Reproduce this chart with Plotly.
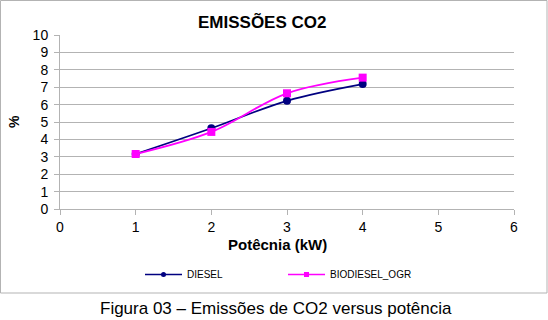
import plotly.graph_objects as go

# Data
potencia = [1, 2, 3, 4]
diesel = [3.16, 4.64, 6.22, 7.18]
biodiesel_ogr = [3.16, 4.43, 6.65, 7.55]
x_ticks = [0, 1, 2, 3, 4, 5, 6]
y_ticks = [0, 1, 2, 3, 4, 5, 6, 7, 8, 9, 10]
grid_vals = [1, 2, 3, 4, 5, 6, 7, 8, 9]

W, H = 548, 320
L, R, T, B = 60, 34, 35, 111
PW, PH = W - L - R, H - T - B

def px(xp):
    return (xp - L) / PW

def py(yp):
    return (H - B - yp) / PH

FONT = "Arial, Liberation Sans, sans-serif"
GRID = "#b3b3b3"

fig = go.Figure()
fig.add_trace(go.Scatter(
    x=potencia, y=diesel, name="DIESEL", mode="lines+markers",
    line=dict(color="#000080", width=1.8, shape="spline", smoothing=1),
    marker=dict(symbol="circle", size=8, color="#000080"),
    showlegend=False))
fig.add_trace(go.Scatter(
    x=potencia, y=biodiesel_ogr, name="BIODIESEL_OGR", mode="lines+markers",
    line=dict(color="#ff00ff", width=1.8, shape="spline", smoothing=1),
    marker=dict(symbol="square", size=8, color="#ff00ff"),
    showlegend=False))
# legend entries (smaller symbols as in the reference)
fig.add_trace(go.Scatter(
    x=[None], y=[None], name="DIESEL", mode="lines+markers",
    line=dict(color="#000080", width=1.5),
    marker=dict(symbol="circle", size=5, color="#000080")))
fig.add_trace(go.Scatter(
    x=[None], y=[None], name="BIODIESEL_OGR", mode="lines+markers",
    line=dict(color="#ff00ff", width=1.5),
    marker=dict(symbol="square", size=5, color="#ff00ff")))
# invisible trace for gridlines axis
fig.add_trace(go.Scatter(x=[None], y=[None], yaxis="y2", showlegend=False, hoverinfo="skip"))

fig.update_layout(
    width=W, height=H,
    margin=dict(l=L, r=R, t=T, b=B, pad=0),
    paper_bgcolor="white", plot_bgcolor="white",
    font=dict(family=FONT, size=13, color="black"),
    showlegend=True,
    legend=dict(orientation="h", x=px(140), y=py(260), xanchor="left", yanchor="top",
                font=dict(size=10, family=FONT), entrywidth=91, entrywidthmode="pixels",
                itemwidth=37, bgcolor="rgba(0,0,0,0)", tracegroupgap=0),
    xaxis=dict(range=[0, 6], tickvals=x_ticks, ticktext=[str(v) for v in x_ticks],
               showgrid=False, zeroline=False, showline=True, linecolor=GRID, linewidth=1,
               ticks="outside", ticklen=5, tickcolor=GRID, tickfont=dict(size=14),
               fixedrange=True),
    yaxis=dict(range=[0, 10], tickvals=y_ticks, ticktext=[str(v) for v in y_ticks],
               showgrid=False, zeroline=False, showline=True, linecolor=GRID, linewidth=1,
               ticks="outside", ticklen=5, tickcolor=GRID, tickfont=dict(size=14),
               ticklabelstandoff=3),
    yaxis2=dict(range=[0, 10], overlaying="y", tickvals=grid_vals, showgrid=True,
                gridcolor=GRID, gridwidth=1, showticklabels=False, ticks="",
                zeroline=False, showline=False),
    shapes=[dict(type="rect", xref="paper", yref="paper",
                 x0=px(0.5), x1=px(547), y0=py(0.5), y1=py(293),
                 line=dict(color="#b3b3b3", width=1), fillcolor="rgba(0,0,0,0)", layer="below")],
    annotations=[
        dict(text="<b>EMISSÕES CO2</b>", xref="paper", yref="paper", x=px(262), y=py(22),
             xanchor="center", yanchor="middle", showarrow=False, font=dict(size=17, family=FONT)),
        dict(text="<b>%</b>", xref="paper", yref="paper", x=px(14), y=py(122),
             xanchor="center", yanchor="middle", showarrow=False, textangle=-90,
             font=dict(size=14, family=FONT)),
        dict(text="<b>Potêcnia (kW)</b>", xref="paper", yref="paper", x=px(277), y=py(244),
             xanchor="center", yanchor="middle", showarrow=False, font=dict(size=15, family=FONT)),
        dict(text="Figura 03 – Emissões de CO2 versus potência", xref="paper", yref="paper",
             x=px(276), y=py(308), xanchor="center", yanchor="middle", showarrow=False,
             font=dict(size=17, family=FONT)),
    ],
)

fig.write_html("out.html", config={"displayModeBar": False},
               post_script="document.body.style.margin='0';document.body.style.overflow='hidden';")
